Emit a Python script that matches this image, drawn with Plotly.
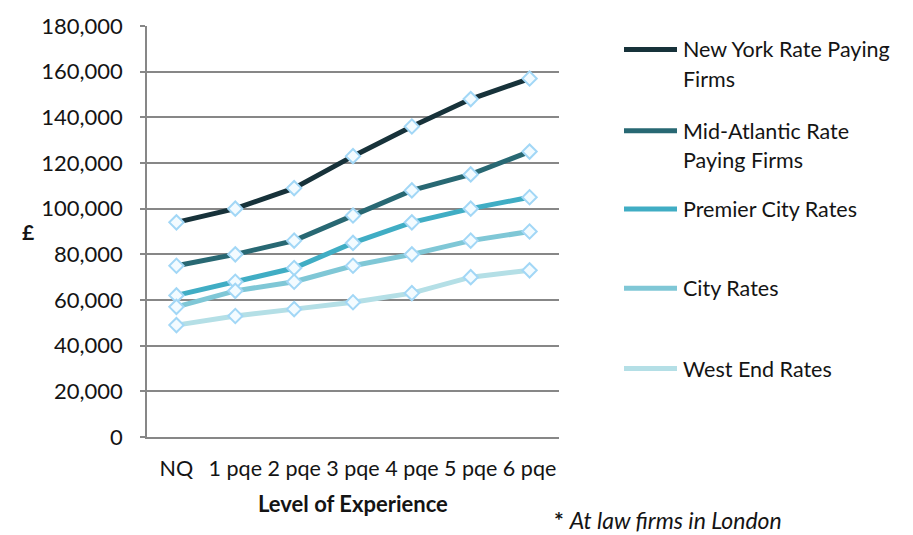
import plotly.graph_objects as go

# Salary levels by post-qualification experience
levels = ["NQ", "1 pqe", "2 pqe", "3 pqe", "4 pqe", "5 pqe", "6 pqe"]

new_york = [94000, 100000, 109000, 123000, 136000, 148000, 157000]
mid_atlantic = [75000, 80000, 86000, 97000, 108000, 115000, 125000]
premier_city = [62000, 68000, 74000, 85000, 94000, 100000, 105000]
city = [57000, 64000, 68000, 75000, 80000, 86000, 90000]
west_end = [49000, 53000, 56000, 59000, 63000, 70000, 73000]

series_names = [
    ["New York Rate Paying", "Firms"],
    ["Mid-Atlantic Rate", "Paying Firms"],
    ["Premier City Rates"],
    ["City Rates"],
    ["West End Rates"],
]
series_values = [new_york, mid_atlantic, premier_city, city, west_end]
series_colors = ["#17323a", "#286873", "#40adc4", "#7fc7d6", "#b4dfe6"]

FONT = "Lato"
TXT = "#141414"
W, H = 913, 535
L, R, T, B = 147, 354, 17, 98
PW, PH = W - L - R, H - T - B


def px_x(p):
    return (p - L) / PW


def px_y(p):
    return 1 - (p - T) / PH


marker_style = dict(symbol="diamond", size=11, color="#f3fbff",
                    line=dict(color="#a2d7f6", width=2))

fig = go.Figure()
for name, vals, col in zip(series_names, series_values, series_colors):
    fig.add_trace(go.Scatter(
        x=levels, y=vals, mode="lines+markers", name=" ".join(name),
        line=dict(color=col, width=5), marker=marker_style,
        showlegend=False,
    ))

# Hand-built legend on the right
legend_rows = [41, 124, 204, 285, 367]
line_gap = 30
annotations = []
shapes = []
for name, col, yrow in zip(series_names, series_colors, legend_rows):
    shapes.append(dict(type="line", xref="paper", yref="paper",
                       x0=px_x(624), x1=px_x(677), y0=px_y(yrow), y1=px_y(yrow),
                       line=dict(color=col, width=5), layer="below"))
    for k, txt in enumerate(name):
        annotations.append(dict(text=txt, xref="paper", yref="paper",
                                x=px_x(681), y=px_y(yrow + k * line_gap),
                                xanchor="left", yanchor="middle", showarrow=False,
                                font=dict(family=FONT, size=21.5, color=TXT)))

fig.add_trace(go.Scatter(
    x=[650] * len(legend_rows), y=legend_rows, xaxis="x2", yaxis="y2",
    mode="markers", marker=dict(symbol="diamond", size=10, color="#f3fbff",
                                line=dict(color="#a2d7f6", width=2)),
    cliponaxis=False, showlegend=False, hoverinfo="skip",
))

annotations += [
    dict(text="<b>£</b>", xref="paper", yref="paper", x=px_x(28), y=px_y(227),
         xanchor="center", yanchor="middle", showarrow=False,
         font=dict(family=FONT, size=21, color=TXT)),
    dict(text="<b>Level of Experience</b>", xref="paper", yref="paper",
         x=px_x(353), y=px_y(505), xanchor="center", yanchor="middle",
         showarrow=False, font=dict(family=FONT, size=22, color=TXT)),
    dict(text="<b>*</b> <i>At law firms in London</i>", xref="paper", yref="paper",
         x=px_x(552), y=px_y(522), xanchor="left", yanchor="middle",
         showarrow=False, font=dict(family=FONT, size=23, color=TXT)),
]

grid = "#878787"
fig.update_layout(
    width=W, height=H,
    margin=dict(l=L, r=R, t=T, b=B),
    paper_bgcolor="white", plot_bgcolor="white",
    font=dict(family=FONT, size=22, color=TXT),
    xaxis=dict(type="category", range=[-0.5, 6.5], showgrid=False,
               showline=True, linecolor=grid, linewidth=1.5, ticks="",
               ticklabelstandoff=11, tickfont=dict(size=21.5)),
    yaxis=dict(range=[0, 180000], dtick=20000, tickformat=",",
               showgrid=True, gridcolor=grid, gridwidth=1.5,
               showline=True, linecolor=grid, linewidth=1.5,
               ticks="outside", ticklen=5, tickcolor=grid, tickwidth=1.5,
               ticklabelstandoff=13, zeroline=False, tickfont=dict(size=22)),
    xaxis2=dict(overlaying="x", range=[L, L + PW], visible=False),
    yaxis2=dict(overlaying="y", range=[T + PH, T], visible=False),
    annotations=annotations,
    shapes=shapes,
)

fig.write_html("out.html")
